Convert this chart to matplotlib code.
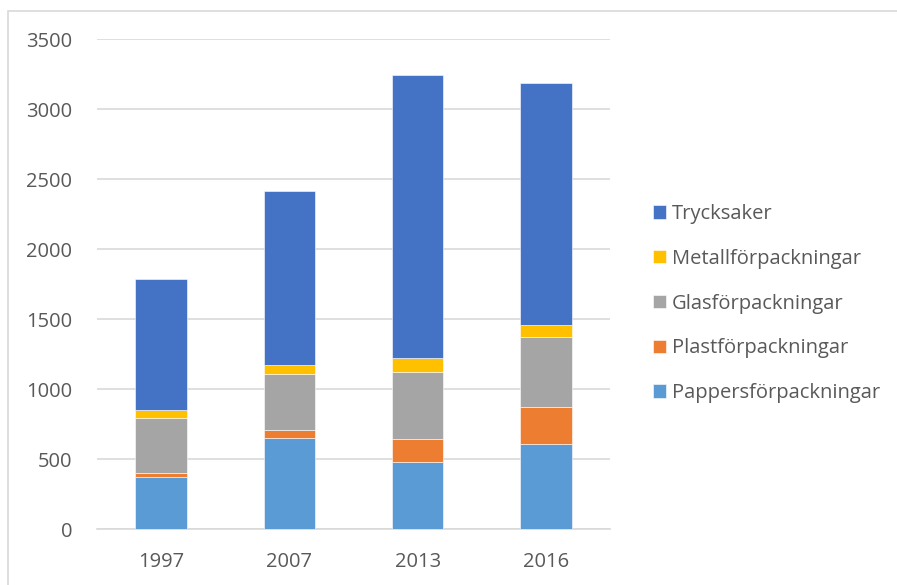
import numpy as np
import matplotlib.pyplot as plt
from matplotlib.patches import Rectangle

plt.rcParams['font.family'] = ['Open Sans', 'DejaVu Sans']

years = ['1997', '2007', '2013', '2016']
papper = [374, 650, 483, 609]
plast = [30, 62, 160, 267]
glas = [393, 395, 483, 500]
metall = [55, 67, 100, 83]
tryck = [934, 1242, 2019, 1731]

series = [('Pappersförpackningar', papper, '#5B9BD5'),
          ('Plastförpackningar', plast, '#ED7D31'),
          ('Glasförpackningar', glas, '#A5A5A5'),
          ('Metallförpackningar', metall, '#FFC000'),
          ('Trycksaker', tryck, '#4472C4')]

fig = plt.figure(figsize=(8.97, 5.85), dpi=100)
ax = fig.add_axes([97 / 897, 55.7 / 585, 513 / 897, 490 / 585])

x = np.arange(len(years))
bottom = np.zeros(len(years))
handles = []
for name, vals, col in series:
    b = ax.bar(x, vals, width=0.4, bottom=bottom, color=col, label=name,
               edgecolor='white', linewidth=0.4, zorder=3)
    handles.append(b)
    bottom += np.array(vals)

ax.set_xlim(-0.5, 3.5)
ax.set_ylim(0, 3500)
ax.set_yticks(np.arange(0, 3501, 500))
ax.set_xticks(x, years)
ax.grid(axis='y', color='#d9d9d9', linewidth=1.2, zorder=0)
for s in ['top', 'right', 'left']:
    ax.spines[s].set_visible(False)
ax.spines['bottom'].set_color('#d9d9d9')
ax.spines['bottom'].set_linewidth(1.2)
ax.tick_params(length=0, labelsize=14.5, colors='#595959', pad=16)
ax.tick_params(axis='y', pad=18)

leg = fig.legend(handles[::-1], [s[0] for s in series][::-1],
                 loc='upper left', bbox_to_anchor=(645 / 897, 1 - 196 / 585),
                 frameon=False, fontsize=14.5, labelcolor='#595959',
                 handlelength=0.65, handleheight=0.65, handletextpad=0.3,
                 labelspacing=1.23, borderaxespad=0)

fig.patches.append(Rectangle((8 / 897, -0.1), 1.2, 1 - 11 / 585 + 0.1,
                             transform=fig.transFigure, fill=False,
                             edgecolor='#d9d9d9', linewidth=1.2))

fig.savefig('out.png', dpi=100)
